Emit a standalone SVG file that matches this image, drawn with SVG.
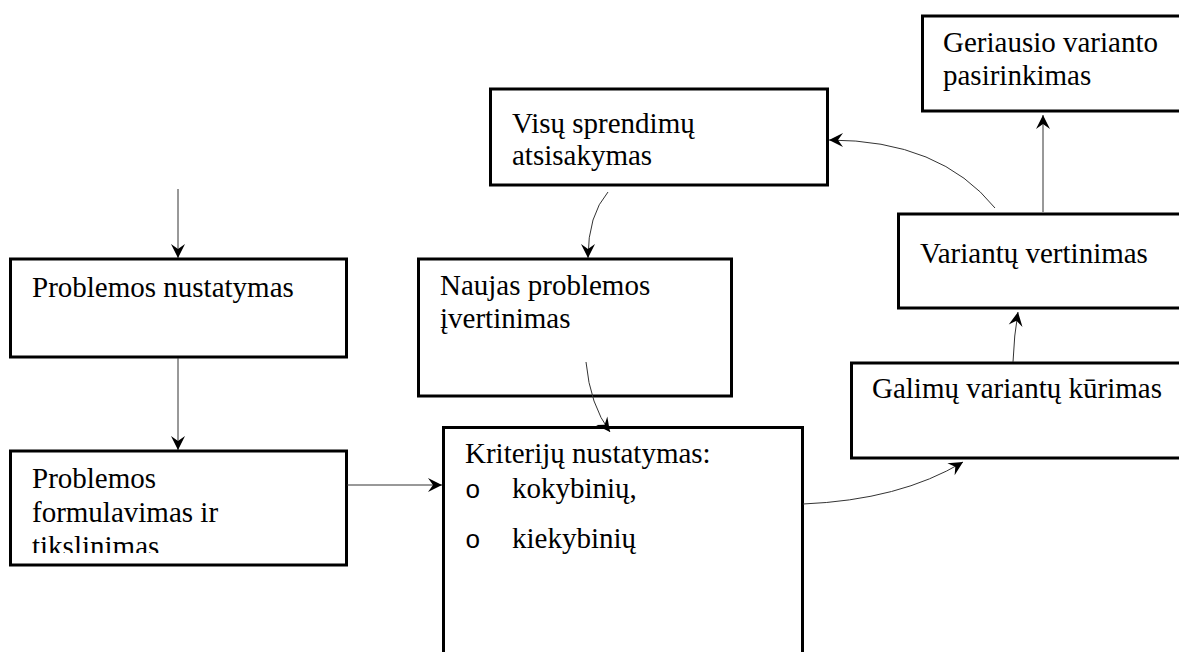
<svg xmlns="http://www.w3.org/2000/svg" width="1179" height="652" viewBox="0 0 1179 652">
  <style>
    .box { fill: #fff; stroke: #000; stroke-width: 3; }
    .lbl { font-family: "Liberation Serif", "Times New Roman", serif; font-size: 29px; fill: #000; }
    .bul { font-family: "Liberation Mono", "Courier New", monospace; font-size: 26px; fill: #000; }
    .con { fill: none; stroke: #333; stroke-width: 1; marker-end: url(#arrow); }
  </style>
  <defs>
    <marker id="arrow" markerUnits="userSpaceOnUse" markerWidth="18" markerHeight="16" viewBox="-15 -8 16 16" refX="0" refY="0" orient="auto">
      <path d="M0,0 L-14,-7 L-9,0 L-14,7 Z" fill="#000"/>
    </marker>
    <clipPath id="clip-formulate">
      <rect x="12" y="452" width="333" height="101"/>
    </clipPath>
  </defs>
  <rect width="1179" height="652" fill="#fff"/>

  <g id="node-nustatymas">
    <rect class="box" x="10.5" y="259" width="336" height="98"/>
    <text class="lbl" x="32" y="297">Problemos nustatymas</text>
  </g>

  <g id="node-formulavimas">
    <rect class="box" x="10.5" y="451" width="336" height="114"/>
    <g clip-path="url(#clip-formulate)">
      <text class="lbl" x="32" y="488">Problemos</text>
      <text class="lbl" x="32" y="522">formulavimas ir</text>
      <text class="lbl" x="32" y="556">tikslinimas</text>
    </g>
  </g>

  <g id="node-kriteriju">
    <rect class="box" x="443.5" y="427.5" width="359" height="260"/>
    <text class="lbl" x="465" y="463">Kriterijų nustatymas:</text>
    <text class="bul" x="465" y="498">o</text>
    <text class="lbl" x="512" y="498">kokybinių,</text>
    <text class="bul" x="465" y="548">o</text>
    <text class="lbl" x="512" y="548">kiekybinių</text>
  </g>

  <g id="node-naujas">
    <rect class="box" x="418.5" y="259" width="313" height="137"/>
    <text class="lbl" x="440" y="295">Naujas problemos</text>
    <text class="lbl" x="440" y="328">įvertinimas</text>
  </g>

  <g id="node-visu">
    <rect class="box" x="490.5" y="89" width="337" height="96"/>
    <text class="lbl" x="512" y="133">Visų sprendimų</text>
    <text class="lbl" x="512" y="165">atsisakymas</text>
  </g>

  <g id="node-geriausio">
    <rect class="box" x="922.5" y="16" width="300" height="95"/>
    <text class="lbl" x="943" y="52">Geriausio varianto</text>
    <text class="lbl" x="943" y="85">pasirinkimas</text>
  </g>

  <g id="node-vertinimas">
    <rect class="box" x="898.5" y="214" width="300" height="94"/>
    <text class="lbl" x="920" y="263">Variantų vertinimas</text>
  </g>

  <g id="node-kurimas">
    <rect class="box" x="851.5" y="363" width="350" height="95"/>
    <text class="lbl" x="872" y="398">Galimų variantų kūrimas</text>
  </g>

  <g id="connectors">
    <path class="con" d="M178,189 L178,258"/>
    <path class="con" d="M178,358 L178,450"/>
    <path class="con" d="M347,485 L442,485"/>
    <path class="con" d="M803,504 Q900,500 963,462"/>
    <path class="con" d="M1013,362 Q1014,335 1018,312"/>
    <path class="con" d="M1043,212 L1043,115"/>
    <path class="con" d="M995,208 Q940,140 829,140"/>
    <path class="con" d="M608,192 Q588,215 588,258"/>
    <path class="con" d="M586,362 Q590,405 610,432"/>
  </g>
</svg>
